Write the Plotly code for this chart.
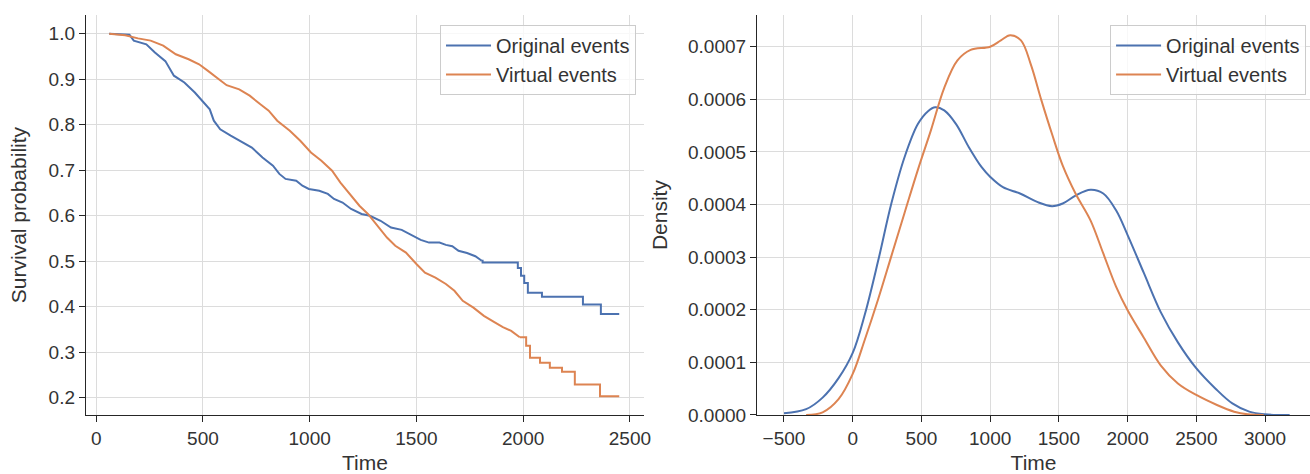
import plotly.graph_objects as go

# Kaplan-Meier survival estimates (time, survival probability)
# Dense part of each curve: many small steps, drawn as a line
orig_km_t = [61, 156, 176, 235, 275, 324, 364, 413, 462, 502, 532, 551, 581, 630, 690, 729, 779, 828,
             858, 887, 937, 966, 996, 1045, 1085, 1114, 1154, 1194, 1243, 1282, 1332, 1381, 1431, 1470,
             1520, 1559, 1608, 1638, 1668, 1697, 1737, 1776, 1806]
orig_km_s = [1.0, 0.998, 0.985, 0.977, 0.959, 0.94, 0.908, 0.893, 0.871, 0.849, 0.834, 0.809, 0.79, 0.776,
             0.761, 0.75, 0.728, 0.71, 0.692, 0.681, 0.677, 0.666, 0.659, 0.655, 0.648, 0.637, 0.629, 0.615,
             0.604, 0.6, 0.589, 0.574, 0.569, 0.56, 0.547, 0.541, 0.541, 0.536, 0.533, 0.523, 0.518, 0.511,
             0.501]
# Sparse tail: individual steps
orig_tail_t = [1806, 1810, 1975, 1990, 2005, 2022, 2088, 2280, 2364, 2450]
orig_tail_s = [0.501, 0.497, 0.485, 0.468, 0.452, 0.431, 0.422, 0.405, 0.384, 0.384]

virt_km_t = [61, 136, 196, 255, 314, 373, 433, 482, 522, 575, 611, 670, 719, 769, 808, 848, 907, 956,
             1006, 1055, 1105, 1144, 1184, 1233, 1273, 1322, 1362, 1401, 1451, 1500, 1540, 1589, 1638,
             1678, 1717, 1767, 1816, 1865, 1905, 1944, 1984]
virt_km_s = [1.0, 0.997, 0.99, 0.985, 0.974, 0.955, 0.944, 0.933, 0.919, 0.9, 0.887, 0.878, 0.864, 0.845,
             0.831, 0.809, 0.787, 0.765, 0.739, 0.721, 0.699, 0.673, 0.651, 0.622, 0.604, 0.574, 0.552,
             0.534, 0.519, 0.494, 0.475, 0.464, 0.45, 0.435, 0.413, 0.398, 0.38, 0.366, 0.355, 0.347, 0.333]
virt_tail_t = [1984, 2014, 2032, 2079, 2125, 2182, 2242, 2360, 2450]
virt_tail_s = [0.333, 0.314, 0.288, 0.277, 0.266, 0.257, 0.229, 0.203, 0.203]

# Kernel density estimates of event times
orig_kde_t = [-500, -339, -219, -103, 0, 89, 185, 281, 377, 474, 550, 600, 666, 752, 845, 938, 1003,
              1093, 1217, 1342, 1450, 1528, 1621, 1730, 1823, 1916, 2000, 2118, 2242, 2366, 2493, 2640,
              2762, 2885, 3000, 3179]
orig_kde_d = [0.0000032, 0.000011, 0.000033, 0.00007, 0.000118, 0.000192, 0.000293, 0.000402, 0.00049,
              0.000553, 0.000578, 0.000585, 0.000579, 0.000553, 0.000509, 0.000471, 0.000452, 0.000433,
              0.000421, 0.000405, 0.000397, 0.000402, 0.000417, 0.000428, 0.000421, 0.000389, 0.000342,
              0.00027, 0.000195, 0.000138, 0.000091, 0.00005, 0.000022, 0.0000063, 0.0000013, 0.0]
virt_kde_t = [-339, -219, -103, 0, 89, 185, 281, 377, 474, 570, 666, 762, 858, 1000, 1078, 1145, 1224,
              1295, 1373, 1450, 1528, 1621, 1730, 1823, 1916, 2000, 2118, 2242, 2366, 2500, 2650, 2775,
              2873, 2990]
virt_kde_d = [0.0, 0.000005, 0.00003, 0.000078, 0.000144, 0.00022, 0.000302, 0.000384, 0.000466,
              0.000542, 0.000622, 0.000674, 0.000694, 0.0007, 0.000712, 0.000722, 0.000712, 0.000667,
              0.000598, 0.000534, 0.000474, 0.000421, 0.00037, 0.000307, 0.000244, 0.000199, 0.000147,
              0.000094, 0.00006, 0.000038, 0.000019, 0.0000063, 0.0000013, 0.0]

series_names = ["Original events", "Virtual events"]
BLUE = "#4C72B0"
ORANGE = "#DD8452"
INK = "#262626"
GRID = "#dcdcdc"
FONT = "Liberation Sans, Arial, sans-serif"

fig = go.Figure()

# Left panel: survival curves
for name, col, t, s, tt, ts in [
    (series_names[0], BLUE, orig_km_t, orig_km_s, orig_tail_t, orig_tail_s),
    (series_names[1], ORANGE, virt_km_t, virt_km_s, virt_tail_t, virt_tail_s),
]:
    fig.add_trace(go.Scatter(x=t, y=s, mode="lines", name=name, legendgroup=name,
                             line=dict(color=col, width=2), xaxis="x", yaxis="y", legend="legend"))
    fig.add_trace(go.Scatter(x=tt, y=ts, mode="lines", name=name, legendgroup=name, showlegend=False,
                             line=dict(color=col, width=2, shape="hv"), xaxis="x", yaxis="y",
                             legend="legend"))

# Right panel: density curves
for name, col, t, d in [
    (series_names[0], BLUE, orig_kde_t, orig_kde_d),
    (series_names[1], ORANGE, virt_kde_t, virt_kde_d),
]:
    fig.add_trace(go.Scatter(x=t, y=d, mode="lines", name=name, legendgroup=name + "2",
                             line=dict(color=col, width=2, shape="spline", smoothing=1.0),
                             xaxis="x2", yaxis="y2", legend="legend2"))

axis_common = dict(showline=True, linecolor=INK, linewidth=1.25, ticks="outside", ticklen=6,
                   tickwidth=1.25, tickcolor=INK, showgrid=True, gridcolor=GRID, gridwidth=1,
                   zeroline=False, automargin=False,
                   tickfont=dict(family=FONT, size=19, color="#333333"),
                   title_font=dict(family=FONT, size=21, color="#333333"), mirror=False)

legend_common = dict(bgcolor="rgba(255,255,255,0.8)", bordercolor="#cccccc", borderwidth=1,
                     font=dict(family=FONT, size=20, color="#333333"), xanchor="right", yanchor="top",
                     traceorder="grouped", tracegroupgap=0, itemwidth=45)

fig.update_layout(
    width=1310, height=474,
    margin=dict(l=0, r=0, t=0, b=0, autoexpand=False),
    paper_bgcolor="white", plot_bgcolor="white",
    showlegend=True,
    xaxis=dict(domain=[0.0656, 0.4916], range=[-48, 2566], tickvals=[0, 500, 1000, 1500, 2000, 2500],
               title=dict(text="Time", standoff=8), anchor="y", **axis_common),
    yaxis=dict(domain=[0.1245, 0.968], range=[0.162, 1.041], tickvals=[0.2, 0.3, 0.4, 0.5, 0.6, 0.7, 0.8, 0.9, 1.0],
               tickformat=".1f", title=dict(text="Survival probability", standoff=16), anchor="x",
               **axis_common),
    xaxis2=dict(domain=[0.5779, 1.0], range=[-696, 3327],
                tickvals=[-500, 0, 500, 1000, 1500, 2000, 2500, 3000],
                ticktext=["\u2212500", "0", "500", "1000", "1500", "2000", "2500", "3000"],
                title=dict(text="Time", standoff=8), anchor="y2", **axis_common),
    yaxis2=dict(domain=[0.1245, 0.968], range=[0, 0.00076],
                tickvals=[0, 0.0001, 0.0002, 0.0003, 0.0004, 0.0005, 0.0006, 0.0007],
                tickformat=".4f", title=dict(text="Density", standoff=14), anchor="x2", **axis_common),
    legend=dict(x=0.4855, y=0.947, **legend_common),
    legend2=dict(x=0.997, y=0.947, **legend_common),
)

fig.write_html("out.html")
